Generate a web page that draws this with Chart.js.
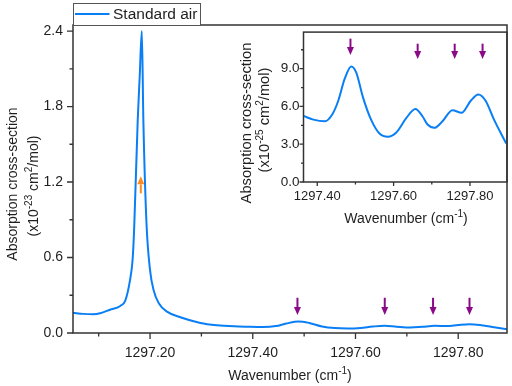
<!DOCTYPE html>
<html>
<head>
<meta charset="utf-8">
<script src="https://cdn.jsdelivr.net/npm/chart.js@4.4.0/dist/chart.umd.min.js"></script>
<style>
  html, body { margin: 0; padding: 0; background: #fff; }
  #wrap { position: relative; width: 512px; height: 386px; }
  #mainChart { position: absolute; left: 0; top: 0; }
  #insetChart { position: absolute; left: 222px; top: 20px; }
</style>
</head>
<body>
<div id="wrap">
  <canvas id="mainChart" width="512" height="386"></canvas>
  <canvas id="insetChart" width="290" height="212"></canvas>
</div>
<script>
// main spectrum, cross-section in 1e-23 cm2/mol
const wavenumber = [1297.050, 1297.070, 1297.089, 1297.103, 1297.122, 1297.142, 1297.152, 1297.161,
  1297.166, 1297.169, 1297.176, 1297.180, 1297.184, 1297.187, 1297.193, 1297.200, 1297.207, 1297.217,
  1297.233, 1297.259, 1297.298, 1297.330, 1297.364, 1297.390, 1297.420, 1297.445, 1297.465, 1297.489,
  1297.510, 1297.535, 1297.560, 1297.585, 1297.610, 1297.633, 1297.657, 1297.680, 1297.707, 1297.730,
  1297.754, 1297.778, 1297.800, 1297.822, 1297.845, 1297.870, 1297.895];
const crossSection = [0.160, 0.152, 0.149, 0.157, 0.185, 0.215, 0.260, 0.420,
  0.580, 0.820, 1.690, 2.050, 2.400, 1.690, 0.880, 0.500, 0.340, 0.236,
  0.170, 0.125, 0.080, 0.062, 0.053, 0.050, 0.048, 0.055, 0.075, 0.092,
  0.080, 0.052, 0.039, 0.036, 0.040, 0.051, 0.058, 0.050, 0.043, 0.049,
  0.057, 0.055, 0.064, 0.070, 0.062, 0.046, 0.030];

// inset zoom, cross-section in 1e-25 cm2/mol
const insetWavenumber = [1297.364, 1297.390, 1297.420, 1297.440, 1297.455, 1297.472, 1297.489, 1297.502,
  1297.520, 1297.541, 1297.563, 1297.585, 1297.607, 1297.633, 1297.657, 1297.676, 1297.689, 1297.707,
  1297.728, 1297.754, 1297.778, 1297.802, 1297.822, 1297.841, 1297.863, 1297.895];
const insetCrossSection = [5.25, 4.95, 4.82, 5.40, 6.45, 8.20, 9.17, 8.70,
  6.70, 4.95, 3.85, 3.60, 3.93, 5.07, 5.80, 5.20, 4.56, 4.30,
  4.82, 5.70, 5.50, 6.45, 6.95, 6.45, 4.95, 3.05];

const mainXTicks = [1297.2, 1297.4, 1297.6, 1297.8];
const mainXMinor = [1297.1, 1297.3, 1297.5, 1297.7];
const mainYTicks = [0, 0.6, 1.2, 1.8, 2.4];
const mainYMinor = [0.3, 0.9, 1.5, 2.1];
const insetXTicks = [1297.4, 1297.6, 1297.8];
const insetXMinor = [1297.5, 1297.7];
const insetYTicks = [0, 3, 6, 9];
const insetYMinor = [1.5, 4.5, 7.5, 10.5];

// peak markers: x, tail y, tip y
const mainArrowX = [1297.487, 1297.657, 1297.751, 1297.822];
const mainArrowFrom = [0.28, 0.28, 0.28, 0.28];
const mainArrowTo = [0.143, 0.143, 0.143, 0.143];
const insetArrowX = [1297.487, 1297.663, 1297.760, 1297.833];
const insetArrowFrom = [11.38, 10.98, 10.98, 10.98];
const insetArrowTo = [10.08, 9.77, 9.77, 9.77];
const strongArrowX = [1297.182];
const strongArrowFrom = [1.11];
const strongArrowTo = [1.245];

const blue = '#0a7ff5';
const purple = '#8a0a88';
const orange = '#ff8a1e';
const ink = '#1e1e1e';
const frameColor = '#333333';
const FONT = '"Liberation Sans", Arial, sans-serif';

function drawRich(ctx, parts, cx, cy, size, vertical) {
  ctx.save();
  ctx.translate(cx, cy);
  if (vertical) ctx.rotate(-Math.PI / 2);
  const sup = Math.round(size * 0.68);
  let w = 0;
  parts.forEach(p => {
    ctx.font = (p[1] ? sup : size) + 'px ' + FONT;
    w += ctx.measureText(p[0]).width;
  });
  let x = -w / 2;
  ctx.fillStyle = ink;
  ctx.textBaseline = 'alphabetic';
  ctx.textAlign = 'left';
  parts.forEach(p => {
    ctx.font = (p[1] ? sup : size) + 'px ' + FONT;
    ctx.fillText(p[0], x, size * 0.36 - (p[1] ? size * 0.42 : 0));
    x += ctx.measureText(p[0]).width;
  });
  ctx.restore();
}

function drawArrow(ctx, x, yFrom, yTo, color) {
  const dir = yTo > yFrom ? 1 : -1;
  const head = 8;
  ctx.save();
  ctx.strokeStyle = color;
  ctx.fillStyle = color;
  ctx.lineWidth = 2;
  ctx.beginPath();
  ctx.moveTo(x, yFrom);
  ctx.lineTo(x, yTo - dir * head);
  ctx.stroke();
  ctx.beginPath();
  ctx.moveTo(x - 3.5, yTo - dir * head);
  ctx.lineTo(x + 3.5, yTo - dir * head);
  ctx.lineTo(x, yTo);
  ctx.closePath();
  ctx.fill();
  ctx.restore();
}

// frame, ticks, titles, arrows
function decorations(cfg) {
  return {
    id: 'decor',
    afterDraw(chart) {
      const ctx = chart.ctx;
      const a = chart.chartArea;
      const xs = chart.scales.x, ys = chart.scales.y;
      ctx.save();
      ctx.strokeStyle = frameColor;
      ctx.lineWidth = 1.5;
      ctx.strokeRect(a.left, a.top, a.right - a.left, a.bottom - a.top);
      ctx.lineWidth = 1.3;
      ctx.beginPath();
      cfg.xMajor.forEach(v => { const p = xs.getPixelForValue(v); ctx.moveTo(p, a.bottom); ctx.lineTo(p, a.bottom + cfg.major); });
      cfg.xMinor.forEach(v => { const p = xs.getPixelForValue(v); ctx.moveTo(p, a.bottom); ctx.lineTo(p, a.bottom + cfg.minor); });
      cfg.yMajor.forEach(v => { const p = ys.getPixelForValue(v); ctx.moveTo(a.left, p); ctx.lineTo(a.left - cfg.major, p); });
      cfg.yMinor.forEach(v => { const p = ys.getPixelForValue(v); ctx.moveTo(a.left, p); ctx.lineTo(a.left - cfg.minor, p); });
      ctx.stroke();
      ctx.restore();

      cfg.arrows.forEach(set => {
        set.x.forEach((v, i) => {
          drawArrow(ctx, xs.getPixelForValue(v), ys.getPixelForValue(set.from[i]), ys.getPixelForValue(set.to[i]), set.color);
        });
      });

      cfg.titles.forEach(t => drawRich(ctx, t.parts, t.x, t.y, t.size, t.vertical));
      if (cfg.after) cfg.after(chart);
    }
  };
}

function axisOptions(min, max, ticks, digits, size, pad, fit) {
  return {
    type: 'linear',
    min: min,
    max: max,
    grid: { display: false, drawTicks: false },
    border: { display: false },
    afterBuildTicks: s => { s.ticks = ticks.map(v => ({ value: v })); },
    afterFit: fit,
    ticks: {
      autoSkip: false,
      maxRotation: 0,
      padding: pad,
      color: ink,
      font: { family: FONT, size: size },
      callback: v => v.toFixed(digits)
    }
  };
}

new Chart(document.getElementById('mainChart'), {
  type: 'line',
  data: {
    datasets: [{
      label: 'Standard air',
      data: wavenumber.map((x, i) => ({ x: x, y: crossSection[i] })),
      borderColor: blue,
      borderWidth: 2,
      pointRadius: 0,
      cubicInterpolationMode: 'monotone'
    }]
  },
  options: {
    responsive: false,
    animation: false,
    layout: { autoPadding: false, padding: { left: 0, top: 25, right: 5, bottom: 0 } },
    plugins: { legend: { display: false }, tooltip: { enabled: false } },
    scales: {
      x: axisOptions(1297.05, 1297.895, mainXTicks, 2, 14, 12, s => { s.height = 53; }),
      y: axisOptions(0, 2.448, mainYTicks, 1, 14, 10, s => { s.width = 73; })
    }
  },
  plugins: [decorations({
    major: 6, minor: 3.5,
    xMajor: mainXTicks, xMinor: mainXMinor, yMajor: mainYTicks, yMinor: mainYMinor,
    arrows: [
      { x: mainArrowX, from: mainArrowFrom, to: mainArrowTo, color: purple },
      { x: strongArrowX, from: strongArrowFrom, to: strongArrowTo, color: orange }
    ],
    titles: [
      { parts: [['Wavenumber (cm', 0], ['-1', 1], [')', 0]], x: 290, y: 375, size: 14 },
      { parts: [['Absorption cross-section', 0]], x: 12, y: 184, size: 14, vertical: true },
      { parts: [['(x10', 0], ['-23', 1], [' cm', 0], ['2', 1], ['/mol)', 0]], x: 32.5, y: 186, size: 14, vertical: true }
    ],
    after(chart) {
      // legend box
      const ctx = chart.ctx;
      ctx.save();
      ctx.fillStyle = '#fff';
      ctx.fillRect(73, 3, 127.5, 22);
      ctx.strokeStyle = '#555';
      ctx.lineWidth = 1;
      ctx.strokeRect(73.5, 3.5, 127, 22);
      ctx.strokeStyle = blue;
      ctx.lineWidth = 2;
      ctx.beginPath();
      ctx.moveTo(75, 14);
      ctx.lineTo(109.5, 14);
      ctx.stroke();
      ctx.fillStyle = ink;
      ctx.font = '15.5px ' + FONT;
      ctx.textBaseline = 'middle';
      ctx.fillText(chart.data.datasets[0].label, 113, 15);
      ctx.restore();
    }
  })]
});

new Chart(document.getElementById('insetChart'), {
  type: 'line',
  data: {
    datasets: [{
      label: 'Standard air',
      data: insetWavenumber.map((x, i) => ({ x: x, y: insetCrossSection[i] })),
      borderColor: blue,
      borderWidth: 2,
      pointRadius: 0,
      cubicInterpolationMode: 'monotone'
    }]
  },
  options: {
    responsive: false,
    animation: false,
    layout: { autoPadding: false, padding: { left: 0, top: 5, right: 5, bottom: 0 } },
    plugins: { legend: { display: false }, tooltip: { enabled: false } },
    scales: {
      x: axisOptions(1297.364, 1297.897, insetXTicks, 2, 13, 7, s => { s.height = 50; }),
      y: axisOptions(0, 11.9, insetYTicks, 1, 13.5, 4, s => { s.width = 81.5; })
    }
  },
  plugins: [decorations({
    major: 4, minor: 2.5,
    xMajor: insetXTicks, xMinor: insetXMinor, yMajor: insetYTicks, yMinor: insetYMinor,
    arrows: [{ x: insetArrowX, from: insetArrowFrom, to: insetArrowTo, color: purple }],
    titles: [
      { parts: [['Wavenumber (cm', 0], ['-1', 1], [')', 0]], x: 184, y: 198, size: 14 },
      { parts: [['Absorption cross-section', 0]], x: 23.5, y: 103, size: 14.7, vertical: true },
      { parts: [['(x10', 0], ['-25', 1], [' cm', 0], ['2', 1], ['/mol)', 0]], x: 41.5, y: 100, size: 14.7, vertical: true }
    ]
  })]
});
</script>
</body>
</html>
